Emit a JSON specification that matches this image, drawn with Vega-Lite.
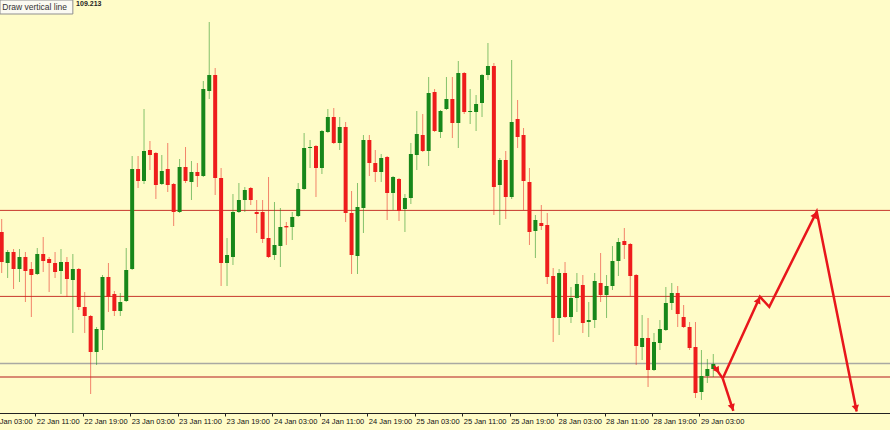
{
  "$schema": "https://vega.github.io/schema/vega-lite/v6.json",
  "width": 890,
  "height": 413,
  "autosize": {"type": "none"},
  "padding": {"left": 0, "top": 0, "right": 0, "bottom": 17},
  "background": "#fffcc8",
  "config": {"view": {"stroke": null}, "scale": {"continuousPadding": 0}},
  "datasets": {
    "candles": [
      {"i":0,"o":109.42,"h":109.4525,"l":109.3175,"c":109.345},
      {"i":1,"o":109.3425,"h":109.375,"l":109.305,"c":109.37},
      {"i":2,"o":109.37,"h":109.3775,"l":109.2775,"c":109.3275},
      {"i":3,"o":109.3275,"h":109.3775,"l":109.295,"c":109.3575},
      {"i":4,"o":109.3575,"h":109.37,"l":109.245,"c":109.3225},
      {"i":5,"o":109.3275,"h":109.345,"l":109.2075,"c":109.3125},
      {"i":6,"o":109.315,"h":109.38,"l":109.3125,"c":109.365},
      {"i":7,"o":109.365,"h":109.4075,"l":109.32,"c":109.3475},
      {"i":8,"o":109.3525,"h":109.3575,"l":109.27,"c":109.3425},
      {"i":9,"o":109.3425,"h":109.37,"l":109.305,"c":109.32},
      {"i":10,"o":109.3225,"h":109.3775,"l":109.265,"c":109.345},
      {"i":11,"o":109.345,"h":109.3575,"l":109.2575,"c":109.3025},
      {"i":12,"o":109.3,"h":109.365,"l":109.1675,"c":109.3275},
      {"i":13,"o":109.3275,"h":109.33,"l":109.225,"c":109.2325},
      {"i":14,"o":109.2325,"h":109.27,"l":109.1675,"c":109.21},
      {"i":15,"o":109.21,"h":109.2125,"l":109.015,"c":109.12},
      {"i":16,"o":109.12,"h":109.1825,"l":109.0875,"c":109.1775},
      {"i":17,"o":109.175,"h":109.3125,"l":109.125,"c":109.3075},
      {"i":18,"o":109.3075,"h":109.3425,"l":109.22,"c":109.2575},
      {"i":19,"o":109.265,"h":109.2725,"l":109.21,"c":109.2225},
      {"i":20,"o":109.2225,"h":109.2675,"l":109.21,"c":109.245},
      {"i":21,"o":109.2475,"h":109.38,"l":109.245,"c":109.325},
      {"i":22,"o":109.3275,"h":109.61,"l":109.325,"c":109.5775},
      {"i":23,"o":109.5775,"h":109.61,"l":109.53,"c":109.5475},
      {"i":24,"o":109.5475,"h":109.7275,"l":109.54,"c":109.6225},
      {"i":25,"o":109.625,"h":109.6475,"l":109.575,"c":109.6125},
      {"i":26,"o":109.6175,"h":109.62,"l":109.5025,"c":109.5375},
      {"i":27,"o":109.54,"h":109.6125,"l":109.5375,"c":109.5725},
      {"i":28,"o":109.5775,"h":109.6425,"l":109.52,"c":109.5375},
      {"i":29,"o":109.54,"h":109.5425,"l":109.435,"c":109.47},
      {"i":30,"o":109.47,"h":109.6025,"l":109.4675,"c":109.5825},
      {"i":31,"o":109.5825,"h":109.6325,"l":109.5425,"c":109.5475},
      {"i":32,"o":109.545,"h":109.5975,"l":109.5,"c":109.57},
      {"i":33,"o":109.57,"h":109.5925,"l":109.5325,"c":109.56},
      {"i":34,"o":109.56,"h":109.7975,"l":109.5575,"c":109.7775},
      {"i":35,"o":109.7725,"h":109.945,"l":109.7525,"c":109.8125},
      {"i":36,"o":109.8125,"h":109.83,"l":109.5125,"c":109.555},
      {"i":37,"o":109.555,"h":109.58,"l":109.285,"c":109.3425},
      {"i":38,"o":109.3425,"h":109.405,"l":109.285,"c":109.3625},
      {"i":39,"o":109.3575,"h":109.515,"l":109.3375,"c":109.47},
      {"i":40,"o":109.47,"h":109.5425,"l":109.4675,"c":109.5},
      {"i":41,"o":109.5,"h":109.5325,"l":109.47,"c":109.525},
      {"i":42,"o":109.53,"h":109.5325,"l":109.4875,"c":109.5},
      {"i":43,"o":109.47,"h":109.5,"l":109.4175,"c":109.465},
      {"i":44,"o":109.47,"h":109.5,"l":109.3925,"c":109.4025},
      {"i":45,"o":109.405,"h":109.5575,"l":109.355,"c":109.3575},
      {"i":46,"o":109.3625,"h":109.495,"l":109.35,"c":109.3875},
      {"i":47,"o":109.385,"h":109.48,"l":109.3325,"c":109.4325},
      {"i":48,"o":109.435,"h":109.445,"l":109.3875,"c":109.4315},
      {"i":49,"o":109.4325,"h":109.47,"l":109.4,"c":109.4575},
      {"i":50,"o":109.46,"h":109.5425,"l":109.4575,"c":109.5275},
      {"i":51,"o":109.5275,"h":109.6675,"l":109.525,"c":109.63},
      {"i":52,"o":109.63,"h":109.65,"l":109.58,"c":109.6325},
      {"i":53,"o":109.635,"h":109.6375,"l":109.5075,"c":109.58},
      {"i":54,"o":109.58,"h":109.675,"l":109.565,"c":109.6725},
      {"i":55,"o":109.67,"h":109.7275,"l":109.6675,"c":109.7075},
      {"i":56,"o":109.7075,"h":109.73,"l":109.64,"c":109.6425},
      {"i":57,"o":109.6425,"h":109.7075,"l":109.625,"c":109.6825},
      {"i":58,"o":109.6825,"h":109.695,"l":109.445,"c":109.4675},
      {"i":59,"o":109.4675,"h":109.5225,"l":109.315,"c":109.3625},
      {"i":60,"o":109.36,"h":109.5425,"l":109.315,"c":109.4825},
      {"i":61,"o":109.48,"h":109.6625,"l":109.4175,"c":109.65},
      {"i":62,"o":109.65,"h":109.6625,"l":109.56,"c":109.5925},
      {"i":63,"o":109.5925,"h":109.625,"l":109.545,"c":109.57},
      {"i":64,"o":109.57,"h":109.615,"l":109.545,"c":109.605},
      {"i":65,"o":109.6075,"h":109.61,"l":109.45,"c":109.5175},
      {"i":66,"o":109.5175,"h":109.56,"l":109.475,"c":109.5575},
      {"i":67,"o":109.5525,"h":109.555,"l":109.4475,"c":109.4725},
      {"i":68,"o":109.4775,"h":109.515,"l":109.42,"c":109.505},
      {"i":69,"o":109.505,"h":109.6425,"l":109.49,"c":109.615},
      {"i":70,"o":109.6125,"h":109.7225,"l":109.575,"c":109.665},
      {"i":71,"o":109.6625,"h":109.715,"l":109.62,"c":109.6225},
      {"i":72,"o":109.6225,"h":109.8075,"l":109.585,"c":109.7675},
      {"i":73,"o":109.77,"h":109.7775,"l":109.67,"c":109.6725},
      {"i":74,"o":109.67,"h":109.725,"l":109.655,"c":109.7225},
      {"i":75,"o":109.7275,"h":109.8075,"l":109.725,"c":109.7525},
      {"i":76,"o":109.7525,"h":109.8075,"l":109.655,"c":109.6925},
      {"i":77,"o":109.6925,"h":109.8475,"l":109.63,"c":109.8175},
      {"i":78,"o":109.8175,"h":109.82,"l":109.715,"c":109.72},
      {"i":79,"o":109.72,"h":109.7775,"l":109.69,"c":109.7225},
      {"i":80,"o":109.72,"h":109.7625,"l":109.6725,"c":109.74},
      {"i":81,"o":109.7425,"h":109.815,"l":109.7075,"c":109.8125},
      {"i":82,"o":109.8125,"h":109.8925,"l":109.8,"c":109.835},
      {"i":83,"o":109.835,"h":109.8425,"l":109.4625,"c":109.5325},
      {"i":84,"o":109.5375,"h":109.605,"l":109.4375,"c":109.6},
      {"i":85,"o":109.6,"h":109.6225,"l":109.4525,"c":109.5075},
      {"i":86,"o":109.5075,"h":109.85,"l":109.5025,"c":109.695},
      {"i":87,"o":109.7025,"h":109.75,"l":109.63,"c":109.6575},
      {"i":88,"o":109.6625,"h":109.68,"l":109.475,"c":109.5475},
      {"i":89,"o":109.545,"h":109.58,"l":109.3875,"c":109.42},
      {"i":90,"o":109.4225,"h":109.4625,"l":109.355,"c":109.45},
      {"i":91,"o":109.4425,"h":109.4875,"l":109.425,"c":109.435},
      {"i":92,"o":109.4375,"h":109.4675,"l":109.29,"c":109.3075},
      {"i":93,"o":109.31,"h":109.33,"l":109.145,"c":109.205},
      {"i":94,"o":109.205,"h":109.3275,"l":109.1625,"c":109.3175},
      {"i":95,"o":109.3175,"h":109.345,"l":109.205,"c":109.2075},
      {"i":96,"o":109.2075,"h":109.2825,"l":109.1925,"c":109.255},
      {"i":97,"o":109.255,"h":109.3175,"l":109.22,"c":109.29},
      {"i":98,"o":109.2875,"h":109.3125,"l":109.1675,"c":109.1925},
      {"i":99,"o":109.195,"h":109.245,"l":109.1575,"c":109.2},
      {"i":100,"o":109.2,"h":109.3175,"l":109.18,"c":109.2975},
      {"i":101,"o":109.2925,"h":109.3675,"l":109.245,"c":109.2625},
      {"i":102,"o":109.2625,"h":109.3125,"l":109.205,"c":109.285},
      {"i":103,"o":109.285,"h":109.385,"l":109.275,"c":109.3475},
      {"i":104,"o":109.3475,"h":109.405,"l":109.31,"c":109.395},
      {"i":105,"o":109.3975,"h":109.43,"l":109.3525,"c":109.3875},
      {"i":106,"o":109.39,"h":109.3925,"l":109.26,"c":109.31},
      {"i":107,"o":109.3125,"h":109.315,"l":109.0875,"c":109.135},
      {"i":108,"o":109.1325,"h":109.2125,"l":109.1,"c":109.155},
      {"i":109,"o":109.155,"h":109.205,"l":109.0325,"c":109.075},
      {"i":110,"o":109.075,"h":109.1675,"l":109.0725,"c":109.145},
      {"i":111,"o":109.1425,"h":109.2,"l":109.125,"c":109.1775},
      {"i":112,"o":109.175,"h":109.2825,"l":109.1725,"c":109.2425},
      {"i":113,"o":109.2425,"h":109.2925,"l":109.225,"c":109.2675},
      {"i":114,"o":109.2675,"h":109.285,"l":109.1825,"c":109.215},
      {"i":115,"o":109.2075,"h":109.2375,"l":109.18,"c":109.1825},
      {"i":116,"o":109.1825,"h":109.195,"l":109.125,"c":109.13},
      {"i":117,"o":109.1325,"h":109.195,"l":109.005,"c":109.0175},
      {"i":118,"o":109.02,"h":109.125,"l":109.0,"c":109.06},
      {"i":119,"o":109.06,"h":109.1025,"l":109.0425,"c":109.0775},
      {"i":120,"o":109.0775,"h":109.115,"l":109.0575,"c":109.09}
    ],
    "levels": [
      {"p":109.474,"kind":"resistance"},
      {"p":109.259,"kind":"resistance"},
      {"p":109.091,"kind":"grey"},
      {"p":109.0575,"kind":"support"}
    ],
    "path": [
      {"seg":"A","k":0,"i":120.12,"p":109.085},
      {"seg":"A","k":1,"i":121.59,"p":109.054},
      {"seg":"B","k":0,"i":121.59,"p":109.054},
      {"seg":"B","k":1,"i":123.38,"p":108.973},
      {"seg":"C","k":0,"i":121.59,"p":109.054},
      {"seg":"C","k":1,"i":127.87,"p":109.258},
      {"seg":"C","k":2,"i":129.44,"p":109.233},
      {"seg":"C","k":3,"i":137.44,"p":109.471},
      {"seg":"C","k":4,"i":144.18,"p":108.971}
    ],
    "heads": [
      {"i":120.71,"p":109.074,"heading":144.7},
      {"i":123.19,"p":108.9815,"heading":161.9},
      {"i":127.62,"p":109.25,"heading":24.6},
      {"i":137.17,"p":109.463,"heading":26.5},
      {"i":144.06,"p":108.979,"heading":168.7}
    ],
    "notes": [
      {"label":"Draw vertical line","i":-0.29,"i2":12.0,"p":110.0,"p2":109.965,"ti":0.1,"tp":109.9825},
      {"label":"109.213","ti":12.55,"tp":109.989}
    ]
  },
  "layer": [
    {
      "data": {"name": "levels"},
      "transform": [{"filter": "datum.kind == 'resistance'"}],
      "mark": {"type": "rule", "color": "#c8372d", "strokeWidth": 1},
      "encoding": {
        "y": {"field": "p", "type": "quantitative", "scale": {"domain": [108.9675, 110.0], "nice": false, "zero": false, "padding": 0}, "axis": null}
      }
    },
    {
      "data": {"name": "levels"},
      "transform": [{"filter": "datum.kind == 'grey'"}],
      "mark": {"type": "rule", "color": "#a9a9a2", "strokeWidth": 1.5},
      "encoding": {
        "y": {"field": "p", "type": "quantitative", "scale": {"domain": [108.9675, 110.0], "nice": false, "zero": false, "padding": 0}, "axis": null}
      }
    },
    {
      "data": {"name": "levels"},
      "transform": [{"filter": "datum.kind == 'support'"}],
      "mark": {"type": "rule", "color": "#d98a72", "strokeWidth": 2},
      "encoding": {
        "y": {"field": "p", "type": "quantitative", "scale": {"domain": [108.9675, 110.0], "nice": false, "zero": false, "padding": 0}, "axis": null}
      }
    },
    {
      "data": {"name": "candles"},
      "mark": {"type": "rule", "strokeWidth": 1, "opacity": 0.55},
      "encoding": {
        "x": {"field": "i", "type": "quantitative",
              "scale": {"domain": [-2.3, 149.8], "range": [-11.94, 890], "nice": false, "zero": false, "padding": 0},
              "axis": {"values": [-2,6,14,22,30,38,46,54,62,70,78,86,94,102,110,118],
                       "labelExpr": "['22 Jan 03:00','22 Jan 11:00','22 Jan 19:00','23 Jan 03:00','23 Jan 11:00','23 Jan 19:00','24 Jan 03:00','24 Jan 11:00','24 Jan 19:00','25 Jan 03:00','25 Jan 11:00','25 Jan 19:00','28 Jan 03:00','28 Jan 11:00','28 Jan 19:00','29 Jan 03:00'][(datum.value+2)/8]",
                       "title": null, "grid": false, "domainColor": "#222", "domainWidth": 1,
                       "tickColor": "#222", "tickSize": 3, "tickOffset": -2,
                       "labelFont": "Liberation Sans", "labelFontSize": 7.5, "labelColor": "#111",
                       "labelAlign": "left", "labelBaseline": "top", "labelPadding": 1, "labelOffset": 1,
                       "labelFlush": false, "labelOverlap": false, "labelBound": false}},
        "y": {"field": "l", "type": "quantitative", "scale": {"domain": [108.9675, 110.0], "nice": false, "zero": false, "padding": 0}, "axis": null},
        "y2": {"field": "h"},
        "color": {"condition": {"test": "datum.c >= datum.o", "value": "#1f8f1f"}, "value": "#e8201e"}
      }
    },
    {
      "data": {"name": "candles"},
      "mark": {"type": "bar", "size": 4},
      "encoding": {
        "x": {"field": "i", "type": "quantitative", "scale": {"domain": [-2.3, 149.8], "range": [-11.94, 890], "nice": false, "zero": false, "padding": 0}},
        "y": {"field": "o", "type": "quantitative", "scale": {"domain": [108.9675, 110.0], "nice": false, "zero": false, "padding": 0}, "axis": null},
        "y2": {"field": "c"},
        "color": {"condition": {"test": "datum.c >= datum.o", "value": "#17871a"}, "value": "#ee1c1c"}
      }
    },
    {
      "data": {"name": "path"},
      "mark": {"type": "line", "color": "#e8161b", "strokeWidth": 2.5, "strokeJoin": "miter"},
      "encoding": {
        "x": {"field": "i", "type": "quantitative", "scale": {"domain": [-2.3, 149.8], "range": [-11.94, 890], "nice": false, "zero": false, "padding": 0}},
        "y": {"field": "p", "type": "quantitative", "scale": {"domain": [108.9675, 110.0], "nice": false, "zero": false, "padding": 0}, "axis": null},
        "detail": {"field": "seg"},
        "order": {"field": "k"}
      }
    },
    {
      "data": {"name": "heads"},
      "mark": {"type": "point", "shape": "triangle-up", "filled": true, "color": "#e8161b", "opacity": 1, "size": 55},
      "encoding": {
        "x": {"field": "i", "type": "quantitative", "scale": {"domain": [-2.3, 149.8], "range": [-11.94, 890], "nice": false, "zero": false, "padding": 0}},
        "y": {"field": "p", "type": "quantitative", "scale": {"domain": [108.9675, 110.0], "nice": false, "zero": false, "padding": 0}, "axis": null},
        "angle": {"field": "heading", "type": "quantitative", "scale": null}
      }
    },
    {
      "data": {"name": "notes"},
      "transform": [{"filter": "isValid(datum.i2)"}],
      "mark": {"type": "rect", "fill": "#fbfaf2", "stroke": "#8f8f8f", "strokeWidth": 1},
      "encoding": {
        "x": {"field": "i", "type": "quantitative", "scale": {"domain": [-2.3, 149.8], "range": [-11.94, 890], "nice": false, "zero": false, "padding": 0}},
        "x2": {"field": "i2"},
        "y": {"field": "p", "type": "quantitative", "scale": {"domain": [108.9675, 110.0], "nice": false, "zero": false, "padding": 0}, "axis": null},
        "y2": {"field": "p2"}
      }
    },
    {
      "data": {"name": "notes"},
      "transform": [{"filter": "datum.label == 'Draw vertical line'"}],
      "mark": {"type": "text", "align": "left", "baseline": "middle", "font": "Liberation Sans", "fontSize": 8.5, "color": "#333"},
      "encoding": {
        "x": {"field": "ti", "type": "quantitative", "scale": {"domain": [-2.3, 149.8], "range": [-11.94, 890], "nice": false, "zero": false, "padding": 0}},
        "y": {"field": "tp", "type": "quantitative", "scale": {"domain": [108.9675, 110.0], "nice": false, "zero": false, "padding": 0}, "axis": null},
        "text": {"field": "label"}
      }
    },
    {
      "data": {"name": "notes"},
      "transform": [{"filter": "datum.label == '109.213'"}],
      "mark": {"type": "text", "align": "left", "baseline": "middle", "font": "Liberation Sans", "fontSize": 7, "fontWeight": "bold", "color": "#222"},
      "encoding": {
        "x": {"field": "ti", "type": "quantitative", "scale": {"domain": [-2.3, 149.8], "range": [-11.94, 890], "nice": false, "zero": false, "padding": 0}},
        "y": {"field": "tp", "type": "quantitative", "scale": {"domain": [108.9675, 110.0], "nice": false, "zero": false, "padding": 0}, "axis": null},
        "text": {"field": "label"}
      }
    }
  ]
}
